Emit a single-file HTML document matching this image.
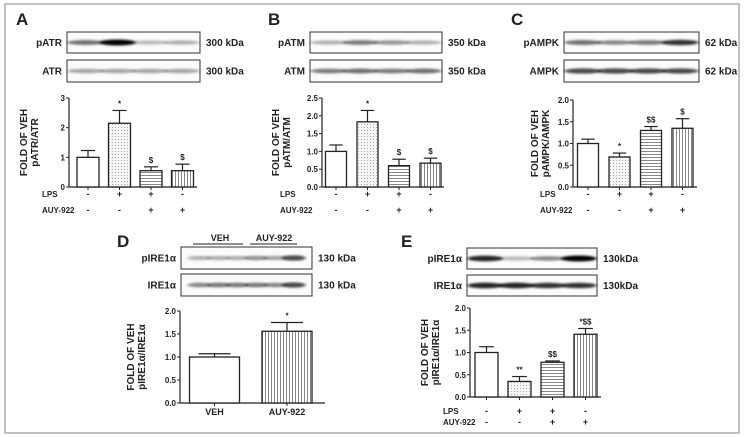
<!DOCTYPE html>
<html><head><meta charset="utf-8"><style>
html,body{margin:0;padding:0;background:#fff}
svg{display:block;font-family:"Liberation Sans",sans-serif}
</style></head><body>
<svg id="fig" width="748" height="437" viewBox="0 0 748 437" xmlns="http://www.w3.org/2000/svg">
<defs>
<pattern id="dots" width="3" height="3" patternUnits="userSpaceOnUse"><rect width="3" height="3" fill="#f6f6f6"/><rect x="1" y="1" width="1" height="1" fill="#aaa"/></pattern>
<pattern id="hl" width="3" height="3" patternUnits="userSpaceOnUse"><rect width="3" height="3" fill="#fff"/><rect y="1" width="3" height="1" fill="#888"/></pattern>
<pattern id="vl" width="3" height="3" patternUnits="userSpaceOnUse"><rect width="3" height="3" fill="#fff"/><rect x="1" width="1" height="3" fill="#888"/></pattern>
<filter id="blur" x="-50%" y="-100%" width="200%" height="300%"><feGaussianBlur stdDeviation="1.6 1"/></filter>
</defs>
<rect x="5" y="4" width="734" height="429" fill="#fff" stroke="#999" stroke-width="1.2"/>
<g id="root"></g>
</svg>
<script>
// ---- data ----
const lpsSigns=['-','+','+','-'];
const auySigns=['-','-','+','+'];
const aValues=[1.0,2.15,0.55,0.55];
const aErrors=[0.23,0.43,0.13,0.22];
const aMarks=['','*','$','$'];
const aTicks=['0','1','2','3'];
const bValues=[1.0,1.83,0.6,0.67];
const bErrors=[0.18,0.32,0.18,0.14];
const bMarks=['','*','$','$'];
const bTicks=['0.0','0.5','1.0','1.5','2.0','2.5'];
const cValues=[1.0,0.69,1.3,1.35];
const cErrors=[0.1,0.09,0.09,0.22];
const cMarks=['','*','$$','$'];
const cTicks=['0.0','0.5','1.0','1.5','2.0'];
const dCategories=['VEH','AUY-922'];
const dValues=[1.0,1.56];
const dErrors=[0.07,0.19];
const dMarks=['','*'];
const dTicks=['0.0','0.5','1.0','1.5','2.0'];
const eValues=[1.0,0.35,0.78,1.41];
const eErrors=[0.13,0.11,0.03,0.13];
const eMarks=['','**','$$','*$$'];
const eTicks=['0.0','0.5','1.0','1.5','2.0'];
const fills=['#fff','url(#dots)','url(#hl)','url(#vl)'];

const NS='http://www.w3.org/2000/svg';
const root=document.getElementById('root');
function mk(tag,attrs,parent,text){
  const e=document.createElementNS(NS,tag);
  for(const k in attrs)e.setAttribute(k,attrs[k]);
  if(text!==undefined)e.textContent=text;
  (parent||root).appendChild(e);return e;
}
function txt(x,y,s,size,anchor,parent,name){
  const t=mk('text',{x:x,y:y,'font-size':size,'font-weight':'bold','text-anchor':anchor||'start',fill:'#222'},parent,s);
  
  
  return t;
}
function panelLetter(x,y,s){txt(x,y,s,17,'start',root,'panel-letter-'+s.toLowerCase());}

function blot(x,y,w,h,label,kda,bands,name){
  const g=mk('g',{});
  
  
  mk('rect',{x:x,y:y,width:w,height:h,fill:'#fbfbfb',stroke:'#333','stroke-width':1},g);
  const n=bands.length;
  bands.forEach((b,i)=>{
    const cx=x+w*(0.14+0.72*i/(n-1));
    const bw=w*0.5/n*1.1;
    const e=mk('ellipse',{cx:cx,cy:y+h/2,rx:bw,ry:1.8+b*1.2,fill:'#000','fill-opacity':b,filter:'url(#blur)'},g);
    
    
  });
  txt(x-5,y+h/2+3.5,label,10,'end',g,'blot-label');
  txt(x+w+6,y+h/2+3.5,kda,10,'start',g,'kda-label');
}

function chart(o,vals,errs,marks,ticks,name){
  const g=mk('g',{});
  
  
  const max=parseFloat(ticks[ticks.length-1]);
  const Y=v=>o.y0-v*(o.y0-o.yTop)/max;
  const X=i=>o.c0+i*o.sp;
  mk('line',{x1:o.ax,y1:o.y0,x2:o.ax,y2:o.yTop,stroke:'#222','stroke-width':1.2},g);
  mk('line',{x1:o.ax,y1:o.y0,x2:o.xEnd,y2:o.y0,stroke:'#222','stroke-width':1.2},g);
  ticks.forEach(t=>{
    const v=parseFloat(t);
    mk('line',{x1:o.ax-3,y1:Y(v),x2:o.ax,y2:Y(v),stroke:'#222'},g);
    txt(o.ax-4,Y(v)+3,t,8,'end',g,'y-tick-label');
  });
  vals.forEach((v,i)=>{
    const cx=X(i);
    mk('line',{x1:cx,y1:o.y0,x2:cx,y2:o.y0+3,stroke:'#222'},g);
    const top=Y(v+errs[i]);
    const el=mk('line',{x1:cx,y1:Y(v),x2:cx,y2:top,stroke:'#222','stroke-width':1.2},g);
    
    
    mk('line',{x1:cx-o.bw*0.32,y1:top,x2:cx+o.bw*0.32,y2:top,stroke:'#222','stroke-width':1.2},g);
    const r=mk('rect',{x:cx-o.bw/2,y:Y(v),width:o.bw,height:o.y0-Y(v),fill:fills[o.fillIdx?o.fillIdx[i]:i],stroke:'#222','stroke-width':1.3},g);
    
    
    if(marks[i])txt(cx,top-4,marks[i],8,'middle',g,'significance-mark');
  });
  const tg=mk('g',{transform:`translate(${o.tx},${(o.y0+o.yTop)/2}) rotate(-90)`},g);
  txt(0,-6,'FOLD OF VEH',10,'middle',tg,'y-axis-title');
  txt(0,5,o.ratio,10,'middle',tg,'y-axis-title');
  if(o.cats){
    o.cats.forEach((c,i)=>txt(X(i),o.y0+12,c,9,'middle',g,'x-category-label'));
  } else {
    txt(o.lx,o.r1+3,'LPS',8,'start',g,'lps-row-label');
    txt(o.lx,o.r2+3,'AUY-922',8,'start',g,'auy-row-label');
    lpsSigns.forEach((s,i)=>txt(X(i),o.r1+3,s,9,'middle',g,'lps-sign'));
    auySigns.forEach((s,i)=>txt(X(i),o.r2+3,s,9,'middle',g,'auy-sign'));
  }
}

panelLetter(16,25,'A');
blot(67,32,133,21,'pATR','300 kDa',[0.55,1.0,0.25,0.3],'blot-patr');
blot(67,60,133,22,'ATR','300 kDa',[0.35,0.35,0.35,0.35],'blot-atr');
chart({ax:69,y0:187,yTop:98,xEnd:197,c0:88,sp:31.5,bw:22,tx:33,ratio:'pATR/ATR',lx:42,r1:194,r2:210},aValues,aErrors,aMarks,aTicks,'chart-a');
panelLetter(268,25,'B');
blot(310,32,132,21,'pATM','350 kDa',[0.3,0.5,0.4,0.3],'blot-patm');
blot(310,60,132,22,'ATM','350 kDa',[0.5,0.55,0.5,0.55],'blot-atm');
chart({ax:322,y0:187,yTop:98,xEnd:444,c0:336,sp:31.5,bw:21,tx:285,ratio:'pATM/ATM',lx:280,r1:194,r2:210},bValues,bErrors,bMarks,bTicks,'chart-b');
panelLetter(511,25,'C');
blot(564,32,135,21,'pAMPK','62 kDa',[0.55,0.45,0.5,0.8],'blot-pampk');
blot(564,60,135,22,'AMPK','62 kDa',[0.7,0.7,0.7,0.7],'blot-ampk');
chart({ax:573,y0:187,yTop:100,xEnd:697,c0:588,sp:31.5,bw:21,tx:544,ratio:'pAMPK/AMPK',lx:540,r1:194,r2:210},cValues,cErrors,cMarks,cTicks,'chart-c');
panelLetter(117,247,'D');
txt(220,241,'VEH',9,'middle',root,'group-label-veh');
txt(274,241,'AUY-922',9,'middle',root,'group-label-auy');
mk('line',{x1:193,y1:244,x2:243,y2:244,stroke:'#222','stroke-width':1});
mk('line',{x1:250,y1:244,x2:297,y2:244,stroke:'#222','stroke-width':1});
blot(181,247,131,22,'pIRE1α','130 kDa',[0.3,0.3,0.3,0.4,0.35,0.7],'blot-pire1a-d');
blot(181,274,131,22,'IRE1α','130 kDa',[0.45,0.5,0.5,0.5,0.45,0.7],'blot-ire1a-d');
chart({ax:180,y0:403,yTop:311,xEnd:325,c0:214.5,sp:72.5,bw:50,tx:140,ratio:'pIRE1α/IRE1α',cats:dCategories,fillIdx:[0,3]},dValues,dErrors,dMarks,dTicks,'chart-d');
panelLetter(401,247,'E');
blot(467,248,130,21,'pIRE1α','130kDa',[0.85,0.25,0.45,1.0],'blot-pire1a-e');
blot(467,275,130,21,'IRE1α','130kDa',[0.85,0.85,0.8,0.8],'blot-ire1a-e');
chart({ax:470,y0:397,yTop:308,xEnd:601,c0:486.5,sp:33,bw:23,tx:434,ratio:'pIRE1α/IRE1α',lx:443,r1:411,r2:422},eValues,eErrors,eMarks,eTicks,'chart-e');
</script>
</body></html>
